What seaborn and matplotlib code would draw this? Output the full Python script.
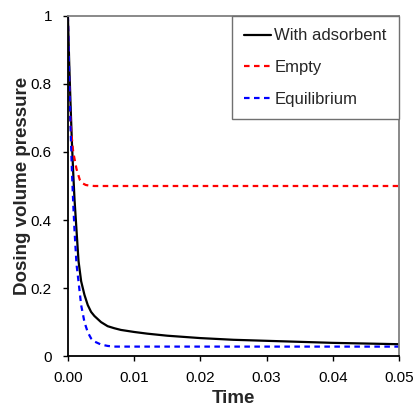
import numpy as np
import pandas as pd
import seaborn as sns
import matplotlib.pyplot as plt

# values
time_ads = [0, 0.0002, 0.0004, 0.0006, 0.0008, 0.001, 0.0013, 0.0016, 0.002, 0.0025,
            0.003, 0.0035, 0.004, 0.005, 0.006, 0.007, 0.008, 0.01, 0.012, 0.015,
            0.02, 0.025, 0.03, 0.035, 0.04, 0.045, 0.05]
p_ads = [1.0, 0.86, 0.74, 0.63, 0.54, 0.46, 0.37, 0.28, 0.22, 0.18,
         0.15, 0.13, 0.118, 0.10, 0.088, 0.082, 0.077, 0.071, 0.066, 0.060,
         0.053, 0.048, 0.045, 0.042, 0.039, 0.037, 0.035]

time_empty = [0, 0.0001, 0.0003, 0.0005, 0.0008, 0.001, 0.0013, 0.0018, 0.0022,
              0.0027, 0.0033, 0.004, 0.005, 0.01, 0.02, 0.03, 0.04, 0.05]
p_empty = [1.0, 0.86, 0.73, 0.66, 0.60, 0.58, 0.55, 0.518, 0.508,
           0.503, 0.501, 0.5, 0.5, 0.5, 0.5, 0.5, 0.5, 0.5]

time_eq = [0, 0.0002, 0.0004, 0.0006, 0.0008, 0.001, 0.0013, 0.0016, 0.002, 0.0025,
           0.003, 0.0035, 0.004, 0.005, 0.006, 0.007, 0.01, 0.02, 0.03, 0.04, 0.05]
p_eq = [1.0, 0.82, 0.67, 0.55, 0.45, 0.37, 0.27, 0.22, 0.15, 0.10,
        0.07, 0.052, 0.043, 0.034, 0.030, 0.028, 0.028, 0.028, 0.028, 0.028, 0.028]

x_ticks = [0.00, 0.01, 0.02, 0.03, 0.04, 0.05]
y_ticks = [0, 0.2, 0.4, 0.6, 0.8, 1]
y_tick_labels = ['0', '0.2', '0.4', '0.6', '0.8', '1']

sns.set_style('white')
plt.rcParams['font.family'] = ['Liberation Sans', 'DejaVu Sans']

fig = plt.figure(figsize=(4.14, 4.07), dpi=100)
ax = fig.add_axes([0.164, 0.125, 0.800, 0.836])

sns.lineplot(x=time_ads, y=p_ads, ax=ax, color='black', lw=1.6, label='With adsorbent')
sns.lineplot(x=time_empty, y=p_empty, ax=ax, color='#ff0000', lw=1.6,
             label='Empty').lines[-1].set_dashes([2.5, 2])
sns.lineplot(x=time_eq, y=p_eq, ax=ax, color='#0000ff', lw=1.6,
             label='Equilibrium').lines[-1].set_dashes([2.5, 2])

ax.set_xlim(0, 0.05)
ax.set_ylim(0, 1)
ax.set_xticks(x_ticks)
ax.set_xticklabels([f'{t:.2f}' for t in x_ticks])
ax.set_yticks(y_ticks)
ax.set_yticklabels(y_tick_labels)
ax.tick_params(direction='out', length=3.5, width=1, labelsize=11, colors='black',
               bottom=True, left=True)
ax.tick_params(axis='x', pad=7)
ax.tick_params(axis='y', pad=8)

ax.set_xlabel('Time', fontsize=13.5, fontweight='bold', labelpad=4)
ax.set_ylabel('Dosing volume pressure', fontsize=13.5, fontweight='bold', labelpad=0)

for side in ['left', 'bottom']:
    ax.spines[side].set_color('black')
    ax.spines[side].set_linewidth(1.3)
for side in ['top', 'right']:
    ax.spines[side].set_color('#808080')
    ax.spines[side].set_linewidth(1.3)

leg = ax.legend(loc='upper right', borderaxespad=0, fancybox=False, fontsize=12,
                labelspacing=1.0, handlelength=1.6, handletextpad=0.2,
                borderpad=0.75, framealpha=1)
leg.get_frame().set_edgecolor('#707070')
leg.get_frame().set_linewidth(1.0)

fig.savefig('out.png', dpi=100)
